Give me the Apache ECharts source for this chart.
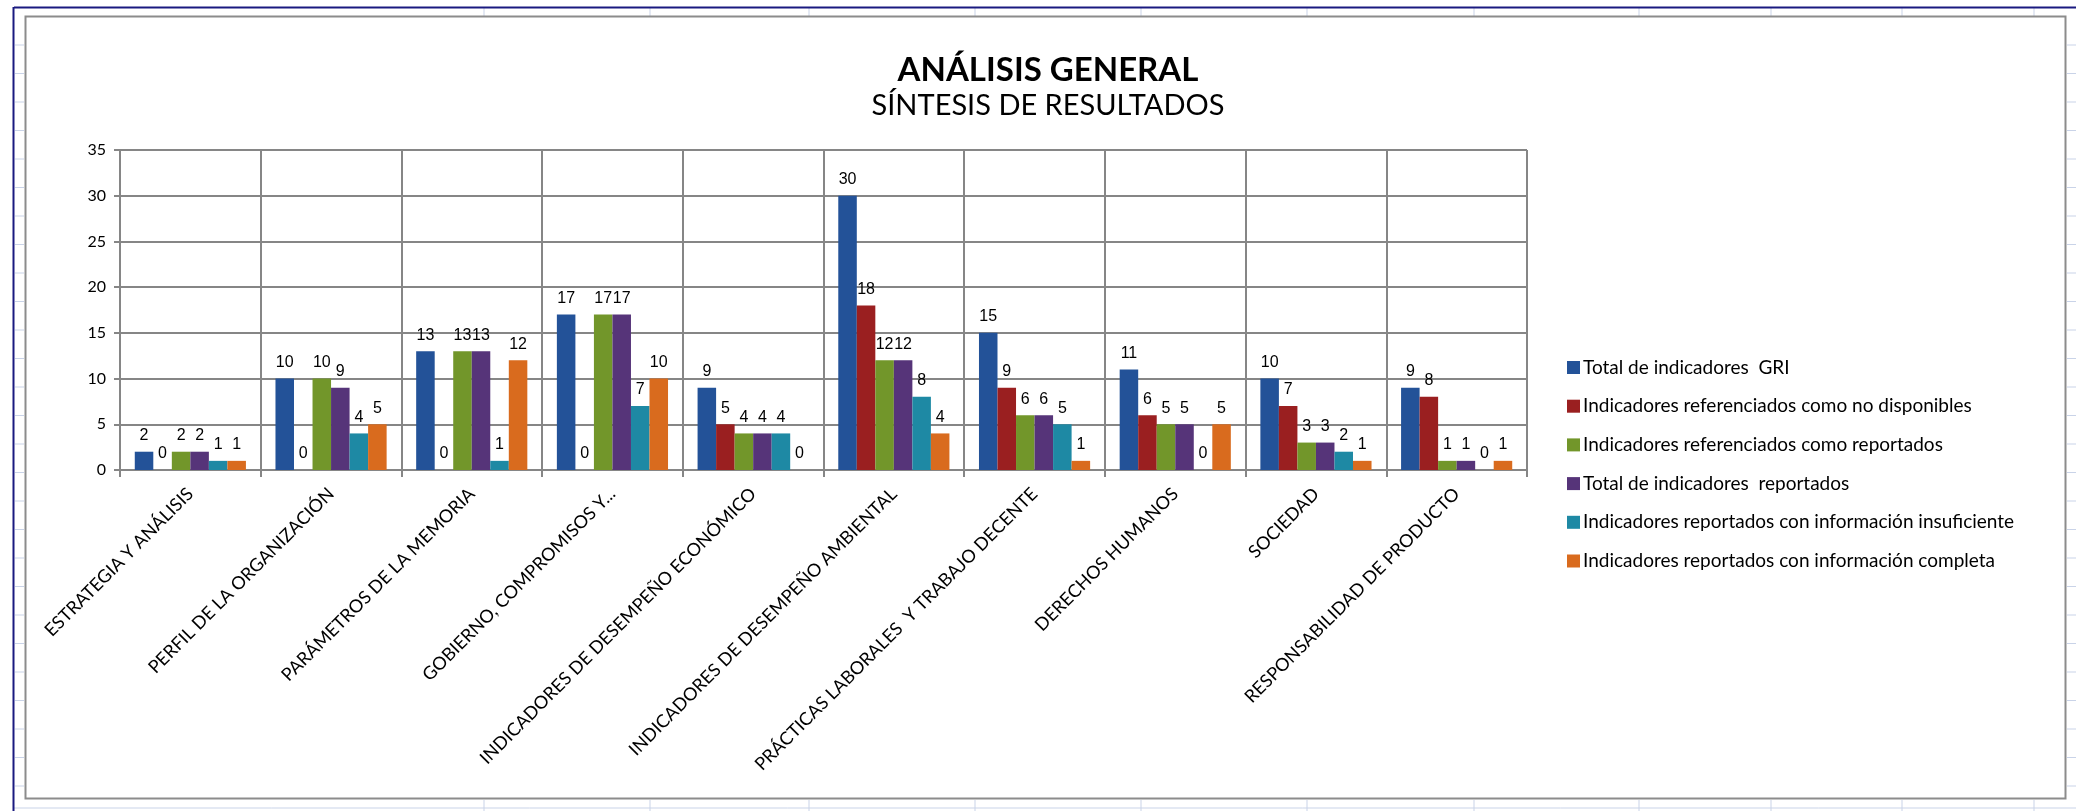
<!DOCTYPE html>
<html>
<head>
<meta charset="utf-8">
<script src="https://cdn.jsdelivr.net/npm/echarts@6/dist/echarts.min.js"></script>
<style>
html,body{margin:0;padding:0;background:#fff;}
#chart{width:2076px;height:811px;}
</style>
</head>
<body>
<div id="chart"></div>
<script>
const categories = [
  "ESTRATEGIA Y ANÁLISIS",
  "PERFIL DE LA ORGANIZACIÓN",
  "PARÁMETROS DE LA MEMORIA",
  "GOBIERNO, COMPROMISOS Y...",
  "INDICADORES DE DESEMPEÑO ECONÓMICO",
  "INDICADORES DE DESEMPEÑO AMBIENTAL",
  "PRÁCTICAS LABORALES  Y TRABAJO DECENTE",
  "DERECHOS HUMANOS",
  "SOCIEDAD",
  "RESPONSABILIDAD DE PRODUCTO"
];
const seriesNames = [
  "Total de indicadores  GRI",
  "Indicadores referenciados como no disponibles",
  "Indicadores referenciados como reportados",
  "Total de indicadores  reportados",
  "Indicadores reportados con información insuficiente",
  "Indicadores reportados con información completa"
];
const totalGRI        = [2, 10, 13, 17, 9, 30, 15, 11, 10, 9];
const noDisponibles   = [0, 0, 0, 0, 5, 18, 9, 6, 7, 8];
const refReportados   = [2, 10, 13, 17, 4, 12, 6, 5, 3, 1];
const totalReportados = [2, 9, 13, 17, 4, 12, 6, 5, 3, 1];
const infoInsuf       = [1, 4, 1, 7, 4, 8, 5, 0, 2, 0];
const infoCompleta    = [1, 5, 12, 10, 0, 4, 1, 5, 1, 1];
const yTicks = [0, 5, 10, 15, 20, 25, 30, 35];

const colors = ['#235298', '#9A1F20', '#72962A', '#563479', '#1E89A4', '#D96B1E'];
const seriesData = [totalGRI, noDisponibles, refReportados, totalReportados, infoInsuf, infoCompleta];

const chart = echarts.init(document.getElementById('chart'), null, {renderer: 'canvas'});

// decorative spreadsheet frame
const gfx = [];
const cellCol = '#C9D3E8';
const colXs = [484, 650, 809, 975, 1141, 1307, 1474, 1639, 1771, 1902, 2034];
colXs.forEach(x => {
  gfx.push({type: 'line', shape: {x1: x, y1: 8, x2: x, y2: 16}, style: {stroke: cellCol, lineWidth: 1}, silent: true});
  gfx.push({type: 'line', shape: {x1: x, y1: 800, x2: x, y2: 811}, style: {stroke: cellCol, lineWidth: 1}, silent: true});
});
for (let y = 45; y < 800; y += 28.5) {
  gfx.push({type: 'line', shape: {x1: 15, y1: y, x2: 24, y2: y}, style: {stroke: cellCol, lineWidth: 1}, silent: true});
  gfx.push({type: 'line', shape: {x1: 2067, y1: y, x2: 2076, y2: y}, style: {stroke: cellCol, lineWidth: 1}, silent: true});
}
gfx.push({type: 'line', shape: {x1: 14, y1: 808, x2: 2076, y2: 808}, style: {stroke: cellCol, lineWidth: 1}, silent: true});
gfx.push({type: 'line', shape: {x1: 14, y1: 7.5, x2: 2076, y2: 7.5}, style: {stroke: '#1A1A80', lineWidth: 2}, silent: true});
gfx.push({type: 'line', shape: {x1: 13.5, y1: 7, x2: 13.5, y2: 811}, style: {stroke: '#1A1A80', lineWidth: 2}, silent: true});
gfx.push({type: 'rect', shape: {x: 25.5, y: 16.5, width: 2040, height: 782}, style: {fill: 'none', stroke: '#8C8C8C', lineWidth: 2}, silent: true});

const option = {
  backgroundColor: '#ffffff',
  animation: false,
  color: colors,
  title: [
    {text: 'ANÁLISIS GENERAL', left: 1043, top: 49, textAlign: 'center',
     textStyle: {fontFamily: 'Lato', fontWeight: 'bold', fontSize: 33, color: '#000'}},
    {text: 'SÍNTESIS DE RESULTADOS', left: 1043, top: 86, textAlign: 'center',
     textStyle: {fontFamily: 'Lato', fontWeight: 'normal', fontSize: 29, color: '#000'}}
  ],
  legend: {
    orient: 'vertical',
    left: 1562,
    top: 353,
    itemWidth: 13,
    itemHeight: 13,
    itemGap: 19.7,
    icon: 'rect',
    textStyle: {fontFamily: 'Lato', fontSize: 19, color: '#000', padding: [0, 0, 0, -2]},
    data: seriesNames
  },
  grid: {left: 120, right: 549, top: 150, bottom: 341, containLabel: false},
  xAxis: {
    type: 'category',
    data: categories,
    boundaryGap: true,
    axisLine: {show: true, lineStyle: {color: '#868686', width: 2}},
    axisTick: {show: true, length: 7, lineStyle: {color: '#868686', width: 2}},
    splitLine: {show: true, lineStyle: {color: '#868686', width: 2}},
    axisLabel: {rotate: 45, margin: 21, interval: 0, fontFamily: 'Lato', fontSize: 18, color: '#000'}
  },
  yAxis: {
    type: 'value',
    min: 0, max: 35, interval: 5,
    axisLine: {show: true, lineStyle: {color: '#868686', width: 2}},
    axisTick: {show: true, length: 6, lineStyle: {color: '#868686', width: 2}},
    splitLine: {show: true, lineStyle: {color: '#868686', width: 2}},
    axisLabel: {margin: 14, fontFamily: 'Lato', fontSize: 16, color: '#000',
      formatter: v => yTicks.includes(v) ? String(v) : ''}
  },
  series: seriesNames.map((name, i) => ({
    name,
    type: 'bar',
    data: seriesData[i],
    barGap: '0%',
    barCategoryGap: '21%',
    itemStyle: {color: colors[i]},
    label: {show: true, position: 'top', distance: 8,
      fontFamily: 'Liberation Sans', fontSize: 16, color: '#000'}
  })),
  graphic: gfx
};
chart.setOption(option);
</script>
</body>
</html>
